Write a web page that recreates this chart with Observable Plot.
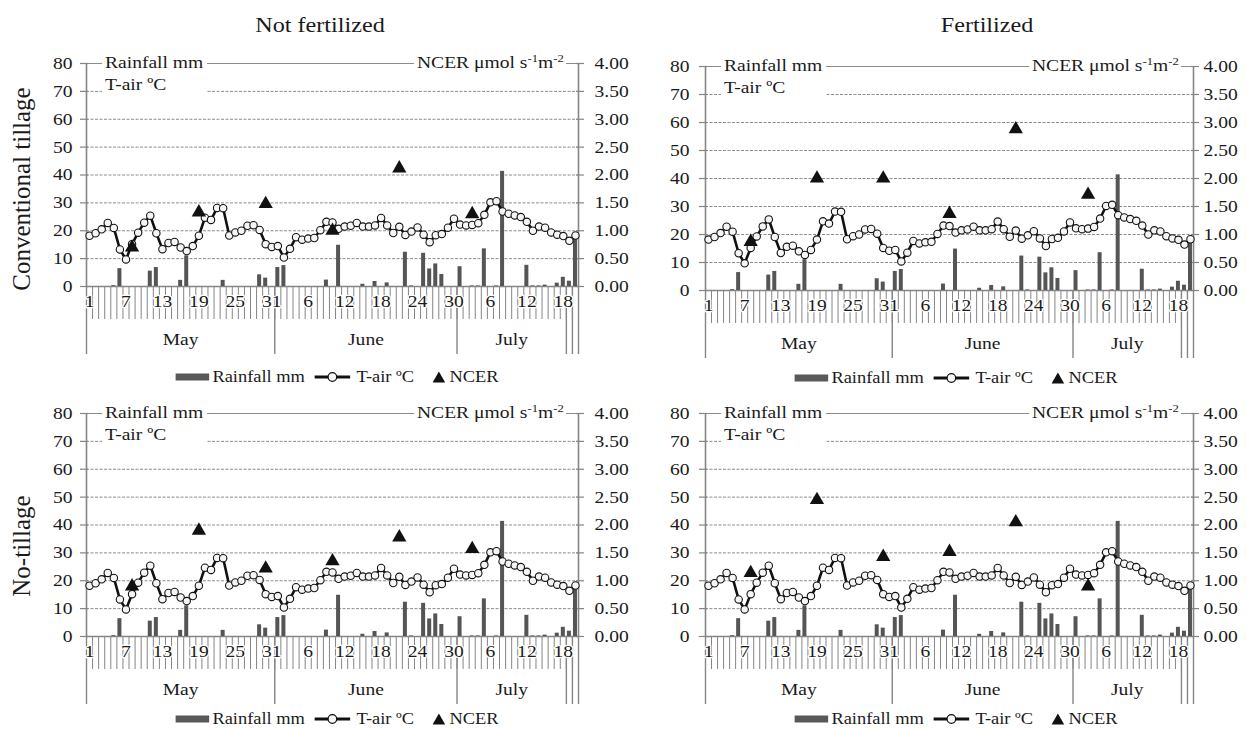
<!DOCTYPE html>
<html><head><meta charset="utf-8">
<script src="https://cdn.jsdelivr.net/npm/d3@7"></script>
<script src="https://cdn.jsdelivr.net/npm/@observablehq/plot@0.6"></script>
<style>
body{margin:0;background:#fff;}
#root{position:relative;width:1247px;height:729px;font-family:"Liberation Serif",Tinos,"Times New Roman",Times,"DejaVu Serif","Noto Serif",serif;color:#1a1a1a;overflow:hidden;background:#fff}
.title{position:absolute;font-size:21px;line-height:24px;transform:translateX(-50%);white-space:nowrap}
.row{position:absolute;font-size:25px;line-height:28px;white-space:nowrap;transform:translate(-50%,-50%) rotate(-90deg)}
.axlab{position:absolute;background:#fff;font-size:17px;line-height:22px;white-space:nowrap}
.axlab sup{font-size:11px;vertical-align:6px;line-height:0}
.legend{position:absolute;font-size:16px;line-height:20px;display:flex;align-items:center;transform:translate(-50%,-50%);white-space:nowrap}
.legend > *{flex:none}
.legend svg{display:block}
.pan{position:absolute}
</style></head><body><div id="root"></div>
<script>
// ---------- data ----------
const tairMay  = [18.2,19.1,20.5,22.8,21.0,13.3,9.7,15.2,19.3,22.9,25.4,19.1,13.4,15.6,16.0,14.0,12.7,14.5,18.2,24.7,23.9,28.2,28.1,18.3,19.4,20.0,21.8,22.0,20.3,15.2,14.2];
const tairJune = [14.5,10.4,13.5,17.7,16.8,17.2,17.4,20.2,23.2,23.0,20.7,21.5,21.8,22.8,21.5,21.5,21.9,24.6,21.9,19.2,21.4,18.5,19.7,21.2,18.6,15.9,18.4,18.8,21.1,24.3];
const tairJuly = [22.2,21.9,22.1,22.7,25.7,30.2,30.6,26.9,26.1,25.5,24.9,23.2,20.0,21.5,21.1,19.4,18.6,18.1,16.4,18.3];
const rainMay  = [0,0,0,0,0.3,6.4,0,0,0,0,5.5,6.8,0,0,0,2.2,11.0,0,0,0,0,0,2.2,0,0,0,0,0,4.2,3.0,0];
const rainJune = [6.8,7.5,0,0,0,0,0,0,2.3,0,14.8,0,0,0,0.8,0,1.8,0,1.3,0,0,12.3,0.2,0,11.9,6.3,8.1,4.3,0,0];
const rainJuly = [7.1,0,0.2,0.2,13.5,0,0.2,41.3,0,0,0,7.6,0.2,0.2,0.5,0,1.2,3.3,1.9,17.5];
const ncerDays = [8,19,30,41,52,64];
const ncerCTnf = [0.70,1.33,1.48,1.00,2.12,1.30];
const ncerCTf  = [0.87,2.00,2.00,1.37,2.88,1.71];
const ncerNTnf = [0.90,1.90,1.22,1.35,1.78,1.57];
const ncerNTf  = [1.14,2.45,1.43,1.52,2.05,0.90];
const leftTicks = [0,10,20,30,40,50,60,70,80];
const gridVals = [10,20,30,40,50,60,70];
const tickDay  = [1,7,13,19,25,31,37,43,49,55,61,67,73,79];
const tickText = ["1","7","13","19","25","31","6","12","18","24","30","6","12","18"];
const monthNames = ["May","June","July"];
const monthStart = [1,32,62];
const monthEnd   = [31,61,79];
const monthEdges = [0.5,31.5,61.5,79.5,80.5,81.5];

const tair = [...tairMay, ...tairJune, ...tairJuly];
const rain = [...rainMay, ...rainJune, ...rainJuly];
const daily = tair.map((t, i) => ({day: i + 1, t, mm: rain[i]}));
const nDays = daily.length;
const root = document.getElementById("root");
const FONT = '"Liberation Serif",Tinos,"Times New Roman",Times,"DejaVu Serif","Noto Serif",serif';
const SX = 1.15; // horizontal stretch of the lettering

function addDiv(cls, html, left, top) {
  const d = document.createElement("div");
  d.className = cls; d.innerHTML = html;
  d.style.left = left + "px"; d.style.top = top + "px";
  root.appendChild(d); return d;
}
function stretchHTML(el, s) {
  const inner = document.createElement("span");
  inner.style.display = "inline-block";
  while (el.firstChild) inner.appendChild(el.firstChild);
  el.appendChild(inner);
  const w = inner.getBoundingClientRect().width;
  inner.style.width = w + "px";
  inner.style.transform = `scaleX(${s})`;
  inner.style.transformOrigin = "0 50%";
  el.style.display = el.style.display || "";
  el.style.width = (w * s) + "px";
  return el;
}
function stretchSvgText(svg, s) {
  svg.querySelectorAll("text").forEach(t => {
    const x = +t.getAttribute("x") || 0, y = +t.getAttribute("y") || 0;
    const tr = t.getAttribute("transform") || "";
    t.setAttribute("transform", `${tr} translate(${x},${y}) scale(${s},1) translate(${-x},${-y})`);
  });
}

function panel(cfg) {
  const {svgL, svgW, plotL, plotR, plotT, plotB, ncer, lDx, rDx, legendX, legendY} = cfg;
  const mt = 14, mb = 74;
  const ph = plotB - plotT;
  const height = ph + mt + mb;
  const u = 80 / ph;                       // data units per pixel (y)
  const xu = (nDays) / (plotR - plotL);    // data units per pixel (x)
  const x0 = 0.5, x1 = nDays + 0.5;
  const bounds = d3.range(0, nDays + 1).map(k => k + 0.5);
  const nd = ncerDays.map((d, i) => ({day: d, v: ncer[i]}));
  const months = monthNames.map((m, i) => ({name: m, mid: (monthStart[i] + monthEnd[i]) / 2}));
  const gray = "#858585";

  const svg = Plot.plot({
    width: svgW, height,
    marginLeft: plotL - svgL, marginRight: svgL + svgW - plotR,
    marginTop: mt, marginBottom: mb,
    x: {type: "linear", domain: [x0, x1], axis: null},
    y: {type: "linear", domain: [0, 80], axis: null},
    style: {fontFamily: FONT, fontSize: "17px", color: "#1a1a1a", background: "transparent", overflow: "visible"},
    marks: [
      Plot.ruleY(gridVals, {y: d => d, stroke: "#8c8c8c", strokeWidth: 1, strokeDasharray: "3,1.5"}),
      Plot.ruleY([80], {y: d => d, stroke: "#8c8c8c", strokeWidth: 1.2}),
      Plot.ruleY(leftTicks, {y: d => d, x1: () => x0 - 6 * xu, x2: () => x0 + 2 * xu, stroke: gray, strokeWidth: 1.2}),
      Plot.ruleY(leftTicks, {y: d => d, x1: () => x1 - 2 * xu, x2: () => x1 + 6 * xu, stroke: gray, strokeWidth: 1.2}),
      Plot.ruleX(bounds, {x: d => d, y1: () => 0, y2: () => -33 * u, stroke: gray, strokeWidth: 1}),
      Plot.ruleX(monthEdges, {x: d => d, y1: () => 0, y2: () => -68 * u, stroke: gray, strokeWidth: 1.4}),
      Plot.ruleX([x0, x1], {x: d => d, y1: () => 0, y2: () => 80, stroke: gray, strokeWidth: 1.6}),
      Plot.ruleY([0], {y: d => d, stroke: gray, strokeWidth: 1.4}),
      Plot.rect(daily.filter(d => d.mm > 0), {x1: d => d.day - 0.33, x2: d => d.day + 0.33, y1: () => 0, y2: d => d.mm, fill: "#555555"}),
      Plot.line(daily, {x: "day", y: "t", stroke: "#111", strokeWidth: 2.6}),
      Plot.dot(daily, {x: "day", y: "t", r: 3.7, fill: "#f5f5f5", stroke: "#111", strokeWidth: 1.1}),
      Plot.dot(nd, {x: "day", y: d => d.v * 20, symbol: "triangle", r: 5.3, fill: "#111", stroke: "none"}),
      Plot.text(leftTicks, {y: d => d, text: d => String(d), frameAnchor: "left", textAnchor: "end", dx: lDx, fill: "#1a1a1a"}),
      Plot.text(leftTicks, {y: d => d, text: d => (d / 20).toFixed(2), frameAnchor: "right", textAnchor: "start", dx: rDx, fill: "#1a1a1a"}),
      Plot.text(tickDay, {x: d => d, y: () => -15 * u, text: (d, i) => tickText[i], fill: "#1a1a1a", stroke: "white", strokeWidth: 2.5}),
      Plot.text(months, {x: "mid", y: () => -53 * u, text: "name", fontSize: 17, fill: "#1a1a1a"})
    ]
  });
  svg.querySelectorAll("g").forEach(g => { if (g.getAttribute("stroke") === "white") g.setAttribute("paint-order", "stroke"); });
  svg.querySelectorAll("text").forEach(t => t.setAttribute("font-family", FONT));
  stretchSvgText(svg, SX);
  const wrap = document.createElement("div");
  wrap.className = "pan";
  wrap.style.left = svgL + "px"; wrap.style.top = (plotT - mt) + "px"; wrap.style.width = svgW + "px";
  wrap.appendChild(svg);
  root.appendChild(wrap);

  const lab = addDiv("axlab", "Rainfall mm<br>T-air ºC", plotL + 16, plotT - 11);
  lab.style.padding = "0 4px 0 3px";
  stretchHTML(lab, SX);
  const r = addDiv("axlab", "NCER μmol s<sup>-1</sup>m<sup>-2</sup>", 0, plotT - 11);
  r.style.left = ""; r.style.right = (1247 - (plotR - 12)) + "px";
  r.style.padding = "0 2px 0 3px";
  stretchHTML(r, SX);

  const lg = addDiv("legend",
    '<svg width="34" height="8"><rect x="0" y="0.5" width="34" height="7" fill="#595959"/></svg>' +
    '<span style="margin-left:3px">Rainfall mm</span>' +
    '<svg width="36" height="12" style="margin-left:9px"><line x1="0" x2="36" y1="6" y2="6" stroke="#111" stroke-width="3"/><circle cx="18" cy="6" r="4.3" fill="#f5f5f5" stroke="#111" stroke-width="1.2"/></svg>' +
    '<span style="margin-left:6px">T-air ºC</span>' +
    '<svg width="13" height="12" style="margin-left:19px"><path d="M6.5,0.5 L12.8,11.5 L0.2,11.5 Z" fill="#111"/></svg>' +
    '<span style="margin-left:4px">NCER</span>', legendX, legendY);
  lg.querySelectorAll("span").forEach(s => stretchHTML(s, SX));
}

stretchHTML(addDiv("title", "Not fertilized", 320, 13), SX);
stretchHTML(addDiv("title", "Fertilized", 987, 13), SX);
addDiv("row", "Conventional tillage", 22, 189);
addDiv("row", "No-tillage", 22, 546);

panel({svgL: 0,   svgW: 640, plotL: 86,  plotR: 578,  plotT: 63,  plotB: 286, ncer: ncerCTnf, lDx: -14, rDx: 16, legendX: 337, legendY: 377});
panel({svgL: 640, svgW: 607, plotL: 705, plotR: 1193, plotT: 66,  plotB: 290, ncer: ncerCTf,  lDx: -16, rDx: 10, legendX: 956, legendY: 378});
panel({svgL: 0,   svgW: 640, plotL: 86,  plotR: 578,  plotT: 413, plotB: 636, ncer: ncerNTnf, lDx: -14, rDx: 16, legendX: 337, legendY: 719});
panel({svgL: 640, svgW: 607, plotL: 705, plotR: 1193, plotT: 413, plotB: 636, ncer: ncerNTf,  lDx: -16, rDx: 10, legendX: 956, legendY: 719});
</script></body></html>
